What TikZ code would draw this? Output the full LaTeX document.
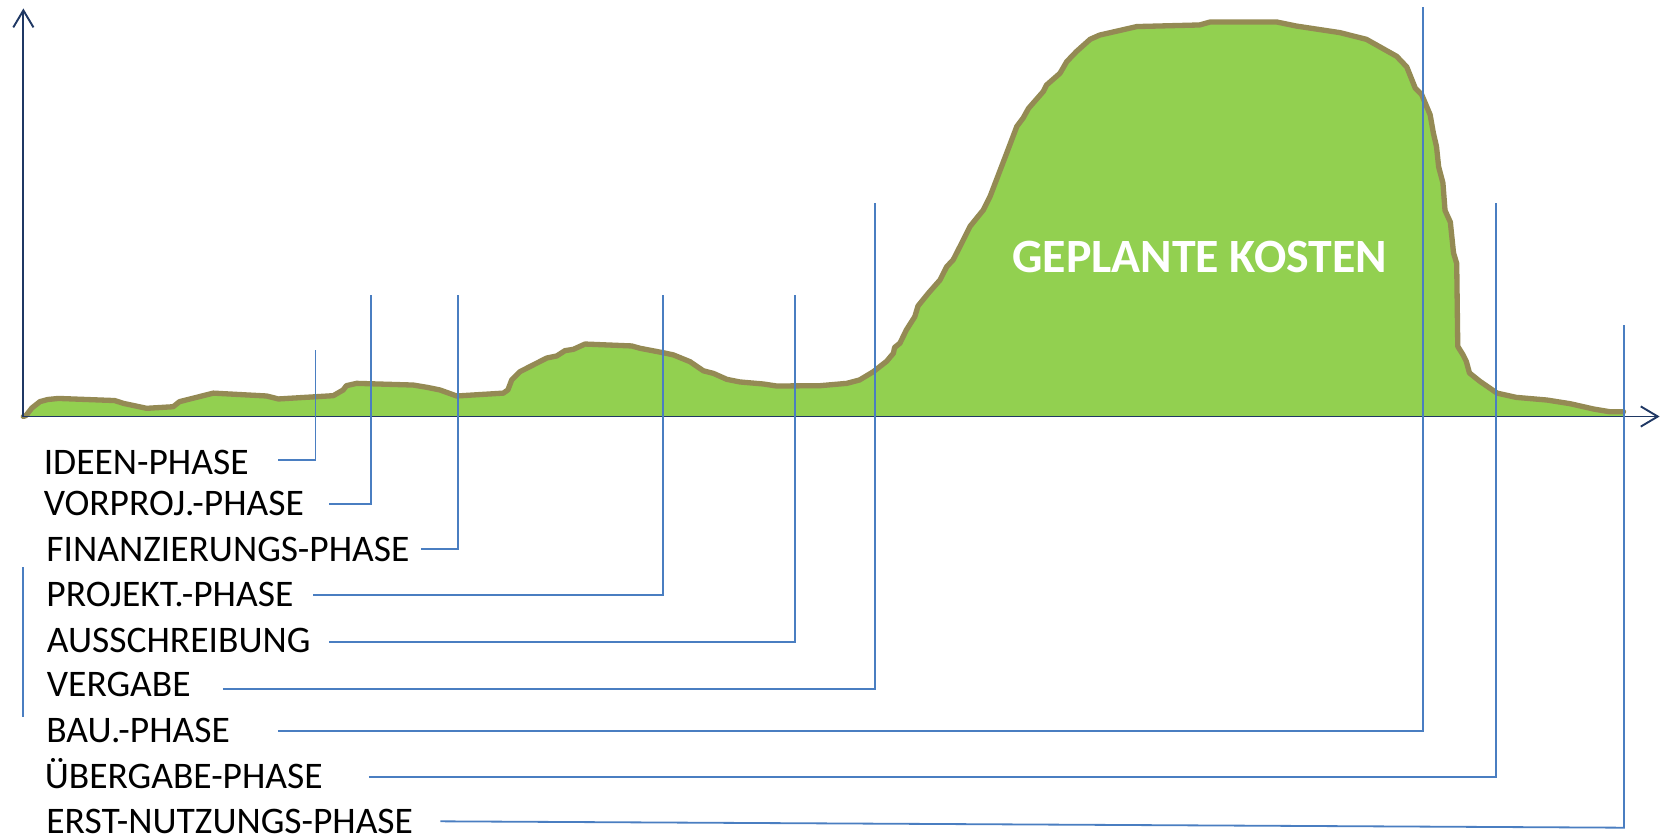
\documentclass[tikz,border=0pt]{standalone}
\usepackage{fontspec}
\setmainfont{Carlito}
\usetikzlibrary{arrows.meta}
\definecolor{axisnavy}{RGB}{31,56,100}
\definecolor{connblue}{RGB}{74,126,193}
\definecolor{areagreen}{RGB}{146,208,80}
\definecolor{olive}{RGB}{148,138,84}
\begin{document}
\begin{tikzpicture}[x=1pt,y=-1pt,
  axisline/.style={draw=axisnavy,line width=1.8pt,-{Straight Barb[length=16pt,width=19pt,line width=1.8pt]}},
  conn/.style={draw=connblue,line width=1.7pt},
  lbl/.style={anchor=base west,inner sep=0pt,font=\fontsize{35.3}{38}\selectfont,text=black},
  titletext/.style={anchor=base,inner sep=0pt,font=\fontsize{45}{48}\selectfont\bfseries,text=white},
  curvefill/.style={fill=areagreen},
  curveline/.style={draw=olive,line width=5pt,line join=round,line cap=round}]
\useasboundingbox (0,0) rectangle (1568,789);
\fill[white] (0,0) rectangle (1568,789);
\def\costcurve{(22,392) -- (24.5,391) -- (30,384) -- (37.6,378) -- (45,376) -- (55,375) -- (108,377) -- (116,379.6) -- (138,384.3) -- (163,382.8) -- (169,378) -- (200.8,370) -- (251,372.7) -- (262,375.5) -- (313.7,372.4) -- (323,367) -- (326,363) -- (335.7,360.8) -- (389,362.4) -- (401.6,364.5) -- (414,367) -- (429.8,372.7) -- (473.7,370) -- (478,367) -- (481.6,357.6) -- (489.4,349.8) -- (514.5,337) -- (524,335) -- (531.8,330) -- (539.6,328.8) -- (550.6,323.8) -- (594.5,325.6) -- (602.4,327.8) -- (624.3,332) -- (633.7,334) -- (649.4,340.4) -- (662,349) -- (671.4,351.4) -- (684,357) -- (696.5,359.5) -- (718.4,361.4) -- (731,363.3) -- (771.8,363) -- (797,360.8) -- (809,357.6) -- (822,349.8) -- (834.5,340) -- (840.8,332.5) -- (842,327) -- (847,323) -- (853,310.6) -- (861,298) -- (864,288) -- (873.7,276) -- (884.7,263.5) -- (891,251) -- (897,244.7) -- (903.5,232) -- (913,213) -- (925.5,197.6) -- (931.8,185) -- (947.5,144) -- (957,119) -- (963,111) -- (968,102) -- (982,86) -- (985,80) -- (997.6,69) -- (1004,58) -- (1013,48.6) -- (1026,37) -- (1035,33) -- (1070,25) -- (1129,23.5) -- (1139,20.7) -- (1201.6,20.7) -- (1220,24.5) -- (1261,30.7) -- (1286,37) -- (1314.5,53) -- (1324,63) -- (1332,83) -- (1338,89) -- (1346,108) -- (1349,125) -- (1352,138) -- (1354,157) -- (1358,172) -- (1360,198) -- (1365,209) -- (1368,238) -- (1371,248) -- (1372,326) -- (1377,334) -- (1380,340) -- (1383,351) -- (1393,359) -- (1409,370) -- (1427,374) -- (1456,376.5) -- (1478,380) -- (1500,385) -- (1515,387.5) -- (1528,387.5)}
% cost area
\fill[curvefill] \costcurve -- (1528,392) -- cycle;
\draw[curveline] \costcurve;
% axes
\coordinate (o) at (22,392);
\coordinate (ytip) at (22,8);
\coordinate (xtip) at (1562,392);
\draw[axisline] (o) -- (ytip);
\draw[axisline] (o) -- (xtip);
% title
\node[titletext] (title) at (1129,256.5) {GEPLANTE KOSTEN};
% labels
\node[lbl] (l1) at (41,447) {IDEEN-PHASE};
\node[lbl] (l2) at (41,485.6) {VORPROJ.-PHASE};
\node[lbl] (l3) at (43.5,528.6) {FINANZIERUNGS-PHASE};
\node[lbl] (l4) at (43.5,571) {PROJEKT.-PHASE};
\node[lbl] (l5) at (44,614) {AUSSCHREIBUNG};
\node[lbl] (l6) at (44,655.7) {VERGABE};
\node[lbl] (l7) at (43.5,699) {BAU.-PHASE};
\node[lbl] (l8) at (42,742) {ÜBERGABE-PHASE};
\node[lbl] (l9) at (43.5,784) {ERST-NUTZUNGS-PHASE};
% connector ends
\coordinate (s1) at (262,433);   \coordinate (t1) at (297,329.4);
\coordinate (s2) at (310,474.4); \coordinate (t2) at (349,277.6);
\coordinate (s3) at (396.6,517); \coordinate (t3) at (431.4,277.6);
\coordinate (s4) at (294.8,560); \coordinate (t4) at (623.7,277.6);
\coordinate (s5) at (310,604.5); \coordinate (t5) at (748,277.6);
\coordinate (s6) at (209.8,648.5); \coordinate (t6) at (823.5,191);
\coordinate (s7) at (261.5,688); \coordinate (t7) at (1339.6,7);
\coordinate (s8) at (347.2,731); \coordinate (t8) at (1407.7,191);
\coordinate (s9) at (414.5,773); \coordinate (c9) at (1528.5,779); \coordinate (t9) at (1528.5,306);
\draw[conn] (s1) -| (t1);
\draw[conn] (s2) -| (t2);
\draw[conn] (s3) -| (t3);
\draw[conn] (s4) -| (t4);
\draw[conn] (s5) -| (t5);
\draw[conn] (s6) -| (t6);
\draw[conn] (s7) -| (t7);
\draw[conn] (s8) -| (t8);
\draw[conn] (s9) -- (c9) -- (t9);
% left bracket line
\coordinate (b1) at (22,534);
\coordinate (b2) at (22,675);
\draw[conn] (b1) -- (b2);
\end{tikzpicture}
\end{document}
